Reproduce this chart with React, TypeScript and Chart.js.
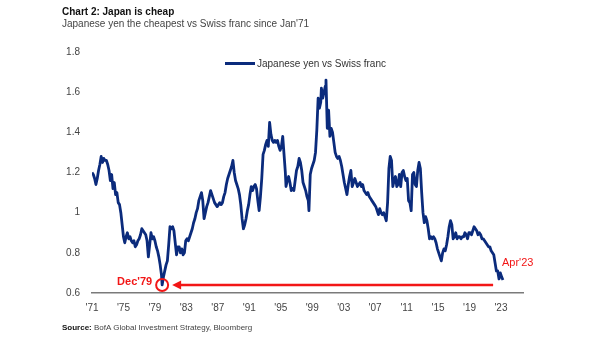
import React, { useEffect, useRef } from "react";
import { Chart, registerables } from "chart.js";

Chart.register(...registerables);

const titleText = "Chart 2: Japan is cheap";
const subtitleText = "Japanese yen the cheapest vs Swiss franc since Jan'71";
const seriesName = "Japanese yen vs Swiss franc";
const sourceLabel = "Source:";
const sourceText = "BofA Global Investment Strategy, Bloomberg";

const dates = [
  "1971-01","1971-03","1971-05","1971-07","1971-09","1971-11",
  "1972-01","1972-03","1972-05","1972-07","1972-09","1972-11",
  "1973-01","1973-03","1973-05","1973-07","1973-09","1973-11",
  "1974-01","1974-03","1974-05","1974-07","1974-09","1974-11",
  "1975-01","1975-03","1975-05","1975-07","1975-09","1975-11",
  "1976-01","1976-03","1976-05","1976-07","1976-09","1976-11",
  "1977-01","1977-03","1977-05","1977-07","1977-09","1977-11",
  "1978-01","1978-03","1978-05","1978-07","1978-09","1978-11",
  "1979-01","1979-03","1979-05","1979-07","1979-09","1979-11","1979-12",
  "1980-02","1980-04","1980-06","1980-08","1980-10","1980-12",
  "1981-02","1981-04","1981-06","1981-08","1981-10","1981-12",
  "1982-02","1982-04","1982-06","1982-08","1982-10","1982-12",
  "1983-02","1983-04","1983-06","1983-08","1983-10","1983-12",
  "1984-02","1984-04","1984-06","1984-08","1984-10","1984-12",
  "1985-02","1985-04","1985-06","1985-08","1985-10","1985-12",
  "1986-02","1986-04","1986-06","1986-08","1986-10","1986-12",
  "1987-02","1987-04","1987-06","1987-08","1987-10","1987-12",
  "1988-02","1988-04","1988-06","1988-08","1988-10","1988-12",
  "1989-02","1989-04","1989-06","1989-08","1989-10","1989-12",
  "1990-02","1990-04","1990-06","1990-08","1990-10","1990-12",
  "1991-02","1991-04","1991-06","1991-08","1991-10","1991-12",
  "1992-02","1992-04","1992-06","1992-08","1992-10","1992-12",
  "1993-02","1993-04","1993-06","1993-08","1993-10","1993-12",
  "1994-02","1994-04","1994-06","1994-08","1994-10","1994-12",
  "1995-02","1995-04","1995-06","1995-08","1995-09","1995-11",
  "1996-01","1996-03","1996-05","1996-07","1996-09","1996-11",
  "1997-01","1997-03","1997-05","1997-07","1997-09","1997-11",
  "1998-01","1998-03","1998-05","1998-07","1998-08","1998-10","1998-12",
  "1999-02","1999-04","1999-06","1999-08","1999-10","1999-12",
  "2000-02","2000-03","2000-05","2000-07","2000-09","2000-10","2000-12",
  "2001-02","2001-04","2001-06","2001-08","2001-10","2001-12",
  "2002-02","2002-04","2002-06","2002-08","2002-10","2002-12",
  "2003-02","2003-04","2003-06","2003-08","2003-10","2003-12",
  "2004-02","2004-04","2004-06","2004-08","2004-10","2004-12",
  "2005-02","2005-04","2005-06","2005-08","2005-10","2005-12",
  "2006-02","2006-04","2006-06","2006-08","2006-10","2006-12",
  "2007-02","2007-04","2007-06","2007-08","2007-10","2007-12",
  "2008-02","2008-04","2008-06","2008-08","2008-10","2008-12",
  "2009-02","2009-04","2009-06","2009-08","2009-10","2009-12",
  "2010-02","2010-04","2010-06","2010-08","2010-10","2010-12",
  "2011-02","2011-04","2011-06","2011-08","2011-10","2011-12",
  "2012-02","2012-04","2012-06","2012-08","2012-10","2012-12",
  "2013-02","2013-04","2013-06","2013-08","2013-10","2013-12",
  "2014-02","2014-04","2014-06","2014-08","2014-10","2014-12",
  "2015-02","2015-04","2015-06","2015-08","2015-10","2015-12",
  "2016-02","2016-04","2016-06","2016-08","2016-10","2016-12",
  "2017-02","2017-04","2017-06","2017-08","2017-10","2017-12",
  "2018-02","2018-04","2018-06","2018-08","2018-10","2018-12",
  "2019-02","2019-04","2019-06","2019-08","2019-10","2019-12",
  "2020-02","2020-04","2020-06","2020-08","2020-10","2020-12",
  "2021-02","2021-04","2021-06","2021-08","2021-10","2021-12",
  "2022-02","2022-04","2022-06","2022-08","2022-10","2022-12",
  "2023-02","2023-04",
];

const values = [
  1.20,1.19,1.17,1.14,1.17,1.21,
  1.24,1.28,1.25,1.27,1.26,1.26,
  1.24,1.21,1.16,1.19,1.12,1.15,
  1.09,1.10,1.05,1.04,1.00,0.94,
  0.88,0.85,0.88,0.90,0.87,0.88,
  0.86,0.85,0.86,0.83,0.84,0.86,
  0.87,0.89,0.92,0.91,0.90,0.89,
  0.86,0.78,0.84,0.90,0.87,0.88,
  0.86,0.83,0.81,0.78,0.74,0.69,0.64,
  0.68,0.71,0.74,0.76,0.84,0.93,
  0.92,0.93,0.91,0.85,0.79,0.83,
  0.83,0.80,0.82,0.79,0.80,0.86,
  0.87,0.86,0.88,0.90,0.92,0.95,
  0.97,1.00,1.02,1.06,1.08,1.10,
  1.06,0.97,1.00,1.03,1.05,1.08,
  1.11,1.09,1.07,1.05,1.04,1.03,
  1.04,1.05,1.04,1.05,1.08,1.10,
  1.14,1.17,1.19,1.21,1.23,1.26,
  1.20,1.16,1.14,1.12,1.09,1.04,
  0.97,0.92,0.94,0.97,1.01,1.04,
  1.09,1.13,1.11,1.13,1.14,1.12,
  1.06,1.01,1.08,1.17,1.29,1.31,
  1.34,1.36,1.33,1.45,1.39,1.36,
  1.35,1.36,1.35,1.36,1.33,1.31,
  1.33,1.38,1.29,1.20,1.13,1.16,
  1.18,1.15,1.11,1.12,1.11,1.16,
  1.21,1.23,1.27,1.25,1.21,1.15,
  1.13,1.11,1.08,1.06,1.01,1.19,1.22,
  1.24,1.26,1.30,1.41,1.57,1.52,
  1.55,1.62,1.57,1.60,1.63,1.66,1.42,
  1.51,1.38,1.42,1.40,1.35,1.30,
  1.28,1.27,1.28,1.26,1.23,1.19,
  1.15,1.12,1.09,1.14,1.18,1.21,
  1.13,1.15,1.17,1.15,1.13,1.14,
  1.15,1.13,1.14,1.11,1.10,1.09,
  1.10,1.08,1.07,1.06,1.05,1.04,
  1.03,1.01,0.99,1.02,1.00,0.99,
  1.00,0.98,0.96,1.05,1.22,1.28,
  1.26,1.13,1.16,1.18,1.13,1.14,
  1.19,1.13,1.20,1.21,1.18,1.16,
  1.17,1.06,1.05,1.01,1.19,1.20,
  1.14,1.13,1.21,1.25,1.22,1.10,
  1.00,0.95,0.98,0.96,0.92,0.87,
  0.88,0.87,0.88,0.87,0.85,0.82,
  0.80,0.78,0.76,0.80,0.82,0.81,
  0.84,0.88,0.93,0.96,0.94,0.87,
  0.88,0.90,0.87,0.88,0.88,0.87,
  0.88,0.88,0.90,0.89,0.87,0.90,
  0.90,0.89,0.91,0.93,0.92,0.91,
  0.89,0.90,0.89,0.87,0.87,0.86,
  0.85,0.84,0.83,0.83,0.81,0.80,
  0.79,0.75,0.71,0.71,0.67,0.70,
  0.68,0.665,
];

const xTickYears = [1971, 1975, 1979, 1983, 1987, 1991, 1995, 1999, 2003, 2007, 2011, 2015, 2019, 2023];
const xTickLabels = ["'71", "'75", "'79", "'83", "'87", "'91", "'95", "'99", "'03", "'07", "'11", "'15", "'19", "'23"];
const yTickValues = [0.6, 0.8, 1, 1.2, 1.4, 1.6, 1.8];
const yTickLabels = ["0.6", "0.8", "1", "1.2", "1.4", "1.6", "1.8"];

const lowDate = "1979-12";
const lowLabel = "Dec'79";
const lastLabel = "Apr'23";
const arrowEndDate = "2022-01";
const xAxisEnd = 2025.8;

const NAVY = "#0b2b7c";
const RED = "#f21616";
const FONT = "'Liberation Sans', Arial, sans-serif";

function toYear(d: string): number {
  const [y, m] = d.split("-").map(Number);
  return y + (m - 1) / 12;
}

const annotationPlugin = {
  id: "lowHighlight",
  afterDatasetsDraw(chart: any) {
    const ctx = chart.ctx;
    const xs = chart.scales.x;
    const ys = chart.scales.y;
    const li = dates.indexOf(lowDate);
    const cx = xs.getPixelForValue(toYear(lowDate));
    const cy = ys.getPixelForValue(values[li]);
    ctx.save();
    ctx.strokeStyle = RED;
    ctx.fillStyle = RED;
    ctx.lineWidth = 2;
    ctx.beginPath();
    ctx.arc(cx, cy, 6, 0, Math.PI * 2);
    ctx.stroke();

    const tip = cx + 10;
    const end = xs.getPixelForValue(toYear(arrowEndDate));
    ctx.lineWidth = 2.5;
    ctx.beginPath();
    ctx.moveTo(tip + 6, cy);
    ctx.lineTo(end, cy);
    ctx.stroke();
    ctx.beginPath();
    ctx.moveTo(tip, cy);
    ctx.lineTo(tip + 9, cy - 4.5);
    ctx.lineTo(tip + 9, cy + 4.5);
    ctx.closePath();
    ctx.fill();

    ctx.font = "bold 11px " + FONT;
    ctx.textAlign = "right";
    ctx.textBaseline = "middle";
    ctx.fillText(lowLabel, cx - 10, cy - 3);

    const last = values.length - 1;
    const lx = xs.getPixelForValue(toYear(dates[last]));
    const ly = ys.getPixelForValue(values[last]);
    ctx.font = "11px " + FONT;
    ctx.textAlign = "left";
    ctx.fillText(lastLabel, lx - 1, ly - 16.5);
    ctx.restore();
  },
};

export default function App() {
  const canvasRef = useRef<HTMLCanvasElement | null>(null);

  useEffect(() => {
    const canvas = canvasRef.current;
    if (!canvas) return;
    const chart = new Chart(canvas, {
      type: "line",
      data: {
        datasets: [
          {
            label: seriesName,
            data: dates.map((d, i) => ({ x: toYear(d), y: values[i] })),
            borderColor: NAVY,
            backgroundColor: NAVY,
            borderWidth: 2.8,
            pointRadius: 0,
            tension: 0,
            borderJoinStyle: "round",
          },
        ],
      },
      options: {
        animation: false,
        responsive: false,
        maintainAspectRatio: false,
        layout: { padding: { left: 0, right: 82, top: 52, bottom: 0 } },
        plugins: {
          legend: { display: false },
          tooltip: { enabled: false },
          title: { display: false },
        },
        scales: {
          x: {
            type: "linear",
            min: 1971,
            max: xAxisEnd,
            grid: { display: false, drawTicks: false },
            border: { display: true, color: "#7a7a7a", width: 1.5 },
            afterBuildTicks: (s: any) => {
              s.ticks = xTickYears.map((v) => ({ value: v }));
            },
            afterFit: (s: any) => {
              s.height = 48;
            },
            ticks: {
              autoSkip: false,
              maxRotation: 0,
              padding: 9,
              color: "#444",
              font: { family: FONT, size: 10 },
              callback: (_v: any, i: number) => xTickLabels[i],
            },
          },
          y: {
            type: "linear",
            min: 0.6,
            max: 1.8,
            grid: { display: false, drawTicks: false },
            border: { display: false },
            afterBuildTicks: (s: any) => {
              s.ticks = yTickValues.map((v) => ({ value: v }));
            },
            afterFit: (s: any) => {
              s.width = 92;
            },
            ticks: {
              autoSkip: false,
              padding: 12,
              color: "#444",
              font: { family: FONT, size: 10 },
              callback: (_v: any, i: number) => yTickLabels[i],
            },
          },
        },
      },
      plugins: [annotationPlugin],
    } as any);
    return () => chart.destroy();
  }, []);

  const base: React.CSSProperties = {
    position: "absolute",
    fontFamily: FONT,
    lineHeight: "10px",
    whiteSpace: "nowrap",
    margin: 0,
  };

  return (
    <div style={{ position: "fixed", left: 0, top: 0, width: 605, height: 341, background: "#fff", overflow: "hidden" }}>
      <canvas ref={canvasRef} width={605} height={341} style={{ position: "absolute", left: 0, top: 0, width: 605, height: 341 }} />
      <div style={{ ...base, left: 62, top: 6.5, fontSize: 10, fontWeight: "bold", color: "#111" }}>{titleText}</div>
      <div style={{ ...base, left: 62, top: 19, fontSize: 10, color: "#444" }}>{subtitleText}</div>
      <div style={{ ...base, left: 225, top: 58.5, fontSize: 10, color: "#333", display: "flex", alignItems: "center" }}>
        <span style={{ display: "inline-block", width: 30, height: 3, background: NAVY, marginRight: 2 }} />
        <span>{seriesName}</span>
      </div>
      <div style={{ ...base, left: 62, top: 323, fontSize: 8, color: "#444" }}>
        <b style={{ color: "#111" }}>{sourceLabel}</b> {sourceText}
      </div>
    </div>
  );
}
